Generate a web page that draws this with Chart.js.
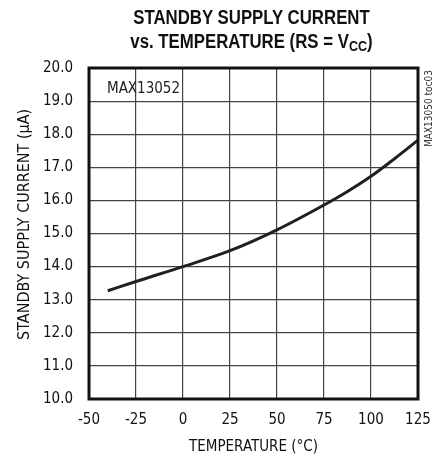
<!DOCTYPE html>
<html>
<head>
<meta charset="utf-8">
<script src="https://cdn.jsdelivr.net/npm/chart.js@4.4.0/dist/chart.umd.min.js"></script>
<style>
  body { margin: 0; background: #fff; }
  #wrap { position: relative; width: 439px; height: 458px; overflow: hidden; }
  #title {
    position: absolute; left: 64px; width: 375px; top: 5px;
    text-align: center; font-family: "Liberation Sans", Arial, sans-serif;
    font-weight: bold; font-size: 20px; line-height: 24px; color: #111;
    transform: scaleX(0.84); transform-origin: 187.5px 0;
  }
  #title sub { font-size: 15px; vertical-align: -3px; line-height: 0; }
  canvas { position: absolute; left: 0; top: 0; }
</style>
</head>
<body>
<div id="wrap">
  <canvas id="chart" width="439" height="458"></canvas>
  <div id="title">STANDBY SUPPLY CURRENT<br>vs. TEMPERATURE (RS = V<sub>CC</sub>)</div>
</div>
<script>
var tempC = [-40, -25, 0, 25, 50, 75, 87.5, 100, 112.5, 125];
var currentUA = [13.27, 13.55, 14.0, 14.48, 15.11, 15.86, 16.27, 16.73, 17.26, 17.82];
var xMin = -50, xMax = 125, xStep = 25;
var yMin = 10, yMax = 20, yStep = 1;

var FONT = '"DejaVu Sans Condensed", "Liberation Sans Narrow", sans-serif';

var frame = {
    id: 'frame',
    afterDraw(chart) {
        const ctx = chart.ctx;
        const a = chart.chartArea;
        ctx.save();
        ctx.strokeStyle = '#111';
        ctx.lineWidth = 3;
        ctx.strokeRect(a.left, a.top, a.right - a.left, a.bottom - a.top);
        ctx.fillStyle = '#222';
        ctx.font = '15px ' + FONT;
        ctx.textBaseline = 'alphabetic';
        ctx.fillText('MAX13052', a.left + 18, a.top + 25);
        ctx.translate(432, a.top + 2);
        ctx.rotate(-Math.PI / 2);
        ctx.font = '10px ' + FONT;
        ctx.textAlign = 'right';
        ctx.fillStyle = '#333';
        ctx.fillText('MAX13050 toc03', 0, 0);
        ctx.restore();
    }
};

var ctx = document.getElementById('chart').getContext('2d');
var chart = new Chart(ctx, {
    type: 'line',
    data: {
        datasets: [{
            data: tempC.map((t, i) => ({ x: t, y: currentUA[i] })),
            borderColor: '#231f20',
            borderWidth: 3,
            pointRadius: 0,
            cubicInterpolationMode: 'monotone',
            fill: false
        }]
    },
    options: {
        responsive: false,
        animation: false,
        layout: { padding: { top: 68, right: 21, left: 0, bottom: 0 } },
        plugins: { legend: { display: false }, tooltip: { enabled: false } },
        scales: {
            x: {
                type: 'linear',
                min: xMin, max: xMax,
                afterFit: (s) => { s.height = 59; s.paddingLeft = 0; s.paddingRight = 0; },
                ticks: { stepSize: xStep, color: '#111', font: { family: FONT, size: 15 }, padding: 12 },
                grid: { color: '#444', lineWidth: 1.2, drawTicks: false },
                border: { display: false },
                title: { display: true, text: 'TEMPERATURE (°C)', color: '#111',
                         font: { family: FONT, size: 15 }, padding: { top: 0, bottom: 2 } }
            },
            y: {
                min: yMin, max: yMax,
                afterFit: (s) => { s.width = 89; },
                ticks: { stepSize: yStep, color: '#111', font: { family: FONT, size: 15 }, padding: 16,
                         callback: (v) => v.toFixed(1) },
                grid: { color: '#444', lineWidth: 1.2, drawTicks: false },
                border: { display: false },
                title: { display: true, text: '    STANDBY SUPPLY CURRENT (μA)', color: '#111',
                         font: { family: FONT, size: 16 }, padding: { top: 15, bottom: 0 } }
            }
        }
    },
    plugins: [frame]
});
</script>
</body>
</html>
